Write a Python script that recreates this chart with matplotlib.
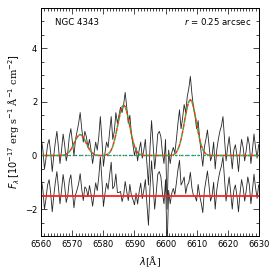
import numpy as np
from matplotlib import pyplot as plt
from matplotlib.ticker import MultipleLocator

# wavelength grid (Angstrom), 0.5 A steps from 6560 to 6630
wave = np.arange(6560.0, 6630.01, 0.5)

# observed spectrum, 10^-17 erg/s/A/cm^2
flux = [0.6, 0.2, -0.5, -0.1, 0.4, 0.6, 0.1, -0.6, 0.0, 0.5,
        0.9, 0.3, -0.3, 0.2, 0.8, 0.4, -0.2, 0.1, 0.7, 1.0,
        0.5, 0.0, 0.6, 0.9, 1.2, 1.6, 1.0, 0.5, 0.9, 0.7,
        0.3, 0.6, 0.2, -0.3, 0.1, 0.5, 0.2, 0.7, 1.45, 0.6,
        -0.4, 0.1, 0.5, 0.3, 0.9, 1.45, 0.6, 0.9, 1.6, 1.2,
        1.5, 1.8, 1.6, 1.9, 2.35, 1.8, 1.2, 1.5, 0.8, 0.4,
        0.0, 0.3, -0.2, 0.2, 0.5, -0.1, 0.2, 0.6, -0.3, -1.1,
        0.3, 1.3, 0.4, -0.5, 0.1, 0.8, 0.9, 0.7, 0.1, -0.3,
        0.6, -2.0, 0.2, -0.3, 0.1, 0.3, 0.1, 0.6, 1.2, 1.7,
        1.0, 1.4, 1.9, 1.6, 2.2, 2.5, 2.95, 2.3, 1.8, 1.5,
        1.0, 1.3, 0.6, 0.1, -0.4, 0.3, 0.6, 0.95, 0.4, -0.2,
        0.0, 0.5, -0.5, 0.2, 0.6, 0.9, 1.1, 1.45, 0.6, -0.2,
        0.3, 0.7, 0.1, -0.5, 0.2, 0.4, 0.0, -0.6, 0.1, 0.6,
        0.3, -0.2, 0.2, 0.7, 0.4, -0.3, 0.2, 0.8, 0.3, -0.1,
        0.4]

# fitted emission line model on the same grid
model = ([0.0] * 13 +
         [0.0, 0.01, 0.02, 0.05, 0.09, 0.14, 0.22, 0.33, 0.45, 0.57, 0.68, 0.75, 0.78,
          0.75, 0.68, 0.57, 0.45, 0.33, 0.22, 0.14, 0.09, 0.05, 0.02, 0.01, 0.0] +
         [0.0] * 3 +
         [0.01, 0.03, 0.06, 0.11, 0.20, 0.34, 0.54, 0.79, 1.08, 1.38, 1.64, 1.82, 1.88,
          1.82, 1.64, 1.38, 1.08, 0.79, 0.54, 0.34, 0.20, 0.11, 0.06, 0.03, 0.01] +
         [0.0] * 18 +
         [0.01, 0.03, 0.06, 0.12, 0.23, 0.38, 0.60, 0.88, 1.20, 1.52, 1.81, 2.01, 2.08,
          2.01, 1.81, 1.52, 1.20, 0.88, 0.60, 0.38, 0.23, 0.12, 0.06, 0.03, 0.01] +
         [0.0] * 32)

resid_offset = -1.5
flux = np.array(flux)
model = np.array(model)
resid = flux - model + resid_offset

fig = plt.figure(figsize=(2.74, 2.75), dpi=100)
ax = fig.add_axes([0.151, 0.142, 0.793, 0.829])

ax.plot(wave, flux, c="0.15", lw=0.6)
ax.plot(wave, resid, c="0.15", lw=0.6)
ax.axhline(resid_offset, color="#ff2020", lw=1.3)

# continuum level
ax.axhline(0, color="#1f5fd0", lw=0.9, ls=(0, (1, 1.5)))
ax.axhline(0, color="#30a030", lw=0.9, ls=(1.2, (2, 2.5)))

# model
ax.plot(wave, model, c="#40a830", lw=1.1, ls=(0, (2.5, 2.0)))
ax.plot(wave, model, c="#ff2a1a", lw=1.1, ls=(2.2, (2.0, 2.5)))

ax.set_xlim(6560, 6630)
ax.set_ylim(-3, 5.5)
ax.xaxis.set_major_locator(MultipleLocator(10))
ax.xaxis.set_minor_locator(MultipleLocator(1))
ax.yaxis.set_major_locator(MultipleLocator(2))
ax.yaxis.set_minor_locator(MultipleLocator(0.5))
ax.tick_params(which="both", direction="in", top=True, right=True, labelsize=6, width=0.5, pad=3)
ax.tick_params(which="major", length=4)
ax.tick_params(which="minor", length=2)
for s in ax.spines.values():
    s.set_linewidth(0.7)

ax.text(6564.3, 4.85, "NGC 4343", fontsize=6.2)
ax.text(6627.5, 4.85, r"$r$ = 0.25 arcsec", fontsize=6.2, ha="right")

ax.set_xlabel(r"$\lambda$[Å]", fontsize=7, family="serif", labelpad=4)
ax.set_ylabel(r"$F_\lambda\,[10^{-17}$ erg s$^{-1}$ Å$^{-1}$ cm$^{-2}]$", fontsize=7, family="serif", labelpad=2)

plt.savefig("out.png", dpi=100)
